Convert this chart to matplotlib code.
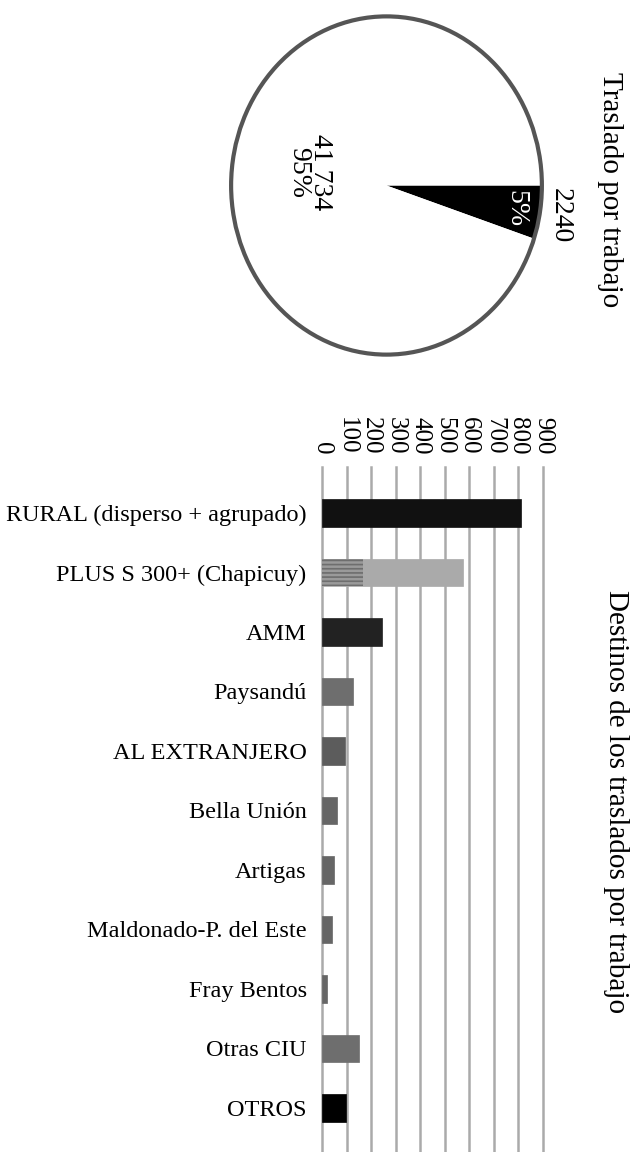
import numpy as np
import matplotlib
matplotlib.use('Agg')
import matplotlib.pyplot as plt
from matplotlib.patches import Ellipse

plt.rcParams['font.family'] = ['Liberation Serif', 'DejaVu Serif']
plt.rcParams['hatch.linewidth'] = 1.2

# pie data
pie_values = [2240, 41734]
pie_labels = ['2240', '41 734']
pie_colors = ['#000000', '#ffffff']

# bar data
categories = ['RURAL (disperso + agrupado)', 'PLUS S 300+ (Chapicuy)', 'AMM',
              'Paysandú', 'AL EXTRANJERO', 'Bella Unión', 'Artigas',
              'Maldonado-P. del Este', 'Fray Bentos', 'Otras CIU', 'OTROS']
values = [810, 575, 245, 126, 94, 62, 49, 41, 22, 151, 98]
hatched_part = [0, 168, 0, 0, 0, 0, 0, 0, 0, 0, 0]
bar_colors = ['#111111', '#aaaaaa', '#222222', '#6e6e6e', '#5c5c5c', '#666666',
              '#666666', '#666666', '#666666', '#6e6e6e', '#000000']
xticks = [0, 100, 200, 300, 400, 500, 600, 700, 800, 900]

fig = plt.figure(figsize=(6.34, 11.52), dpi=100)

# ---- pie ----
ax1 = fig.add_axes([228/634, 1-358/1152, 317/634, 345/1152])
wedges, _ = ax1.pie(pie_values, colors=pie_colors, startangle=0,
                    counterclock=False, wedgeprops=dict(linewidth=0))
ax1.add_patch(Ellipse((0, 0), 2, 2, fill=False, edgecolor='#555555', lw=3))
ax1.set_aspect('auto')
ax1.set_xlim(-1.02, 1.02)
ax1.set_ylim(-1.02, 1.02)
ax1.axis('off')

total = sum(pie_values)
for i, w in enumerate(wedges):
    mid = np.deg2rad((w.theta1 + w.theta2) / 2)
    pct = '%d%%' % round(100 * pie_values[i] / total)
    if i == 0:
        ax1.text(0.84*np.cos(mid), 0.84*np.sin(mid), pct, color='white',
                 rotation=-90, ha='center', va='center', fontsize=20)
        ax1.text(1.13*np.cos(mid), 1.13*np.sin(mid), pie_labels[i],
                 rotation=-90, ha='center', va='center', fontsize=20)
    else:
        ax1.text(0.5*np.cos(mid), 0.5*np.sin(mid), pie_labels[i] + '\n' + pct,
                 rotation=-90, ha='center', va='center', fontsize=20,
                 multialignment='center', linespacing=0.85)

fig.text(610/634, 1-190/1152, 'Traslado por trabajo', rotation=-90,
         ha='center', va='center', fontsize=21)

# ---- bars ----
ax2 = fig.add_axes([322/634, 0, (543-322)/634, 1-467/1152])
y = np.arange(len(categories))
for xv in xticks:
    ax2.axvline(xv, color='#aaaaaa', lw=1.8, zorder=0, clip_on=False)
ax2.barh(y, values, height=0.46, color=bar_colors, edgecolor=bar_colors,
         linewidth=0.5, zorder=2)
ax2.barh(y, hatched_part, height=0.46, color='#9a9a9a',
         edgecolor='#6e6e6e', hatch='----', linewidth=0, zorder=3)
ax2.set_xlim(0, 900)
ax2.set_ylim(10.74, -0.773)
ax2.set_yticks(y)
ax2.set_yticklabels(categories, fontsize=17.5)
ax2.set_xticks(xticks)
ax2.set_xticklabels([str(v) for v in xticks], rotation=-90, fontsize=18)
ax2.xaxis.tick_top()
ax2.tick_params(axis='x', length=0, pad=9)
ax2.tick_params(axis='y', length=0, pad=11)
for lbl in ax2.get_xticklabels():
    lbl.set_va('bottom')
for s in ax2.spines.values():
    s.set_visible(False)

fig.text(616/634, 1-802/1152, 'Destinos de los traslados por trabajo',
         rotation=-90, ha='center', va='center', fontsize=21)

fig.savefig('out.png', dpi=100)
